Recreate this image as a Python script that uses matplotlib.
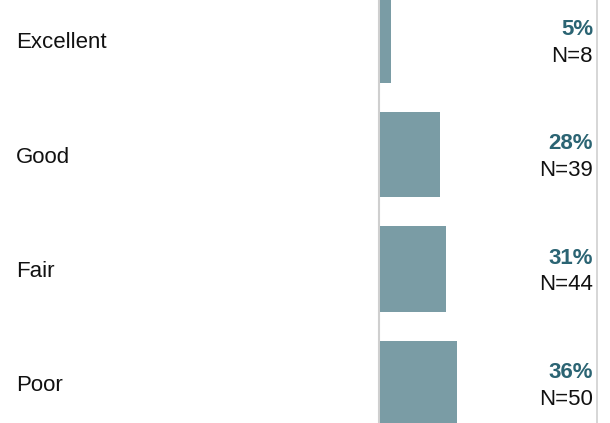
import matplotlib
matplotlib.use("Agg")
import matplotlib.pyplot as plt
import matplotlib.transforms as mtransforms

categories = ["Excellent", "Good", "Fair", "Poor"]
percents = [5, 28, 31, 36]
counts = [8, 39, 44, 50]

BAR = "#7a9ca5"
TEAL = "#2b6473"
LINE = "#cfcfcf"

plt.rcParams["font.family"] = ["Liberation Sans", "DejaVu Sans"]

W, H, DPI = 610, 423, 100
PITCH = 114.3      # px between rows
TOP = 40.3         # px, centre of first row

fig = plt.figure(figsize=(W / DPI, H / DPI), dpi=DPI)
ax = fig.add_axes([380 / W, 0, 217 / W, 1])

rows = list(range(len(categories)))
ax.barh(rows, percents, height=85.4 / PITCH, color=BAR, align="center", zorder=2)
ax.set_xlim(0, 217 / 2.14)
ax.set_ylim((H - TOP) / PITCH, -TOP / PITCH)
ax.axvline(-0.4, color=LINE, lw=1.5, zorder=1, clip_on=False)
ax.axvline(217 / 2.14, color=LINE, lw=1.2, zorder=1, clip_on=False)
ax.axis("off")

trans = mtransforms.blended_transform_factory(fig.transFigure, ax.transData)
for r, cat, p, n in zip(rows, categories, percents, counts):
    fig.text(16 / W, r + 8 / PITCH, cat, transform=trans, fontsize=16,
             va="baseline", ha="left", color="#111111")
    fig.text(593 / W, r - 5.3 / PITCH, f"{p}%", transform=trans, fontsize=16,
             fontweight="bold", va="baseline", ha="right", color=TEAL)
    fig.text(593 / W, r + 21.4 / PITCH, f"N={n}", transform=trans, fontsize=16,
             va="baseline", ha="right", color="#111111")

fig.savefig("out.png", dpi=DPI)
